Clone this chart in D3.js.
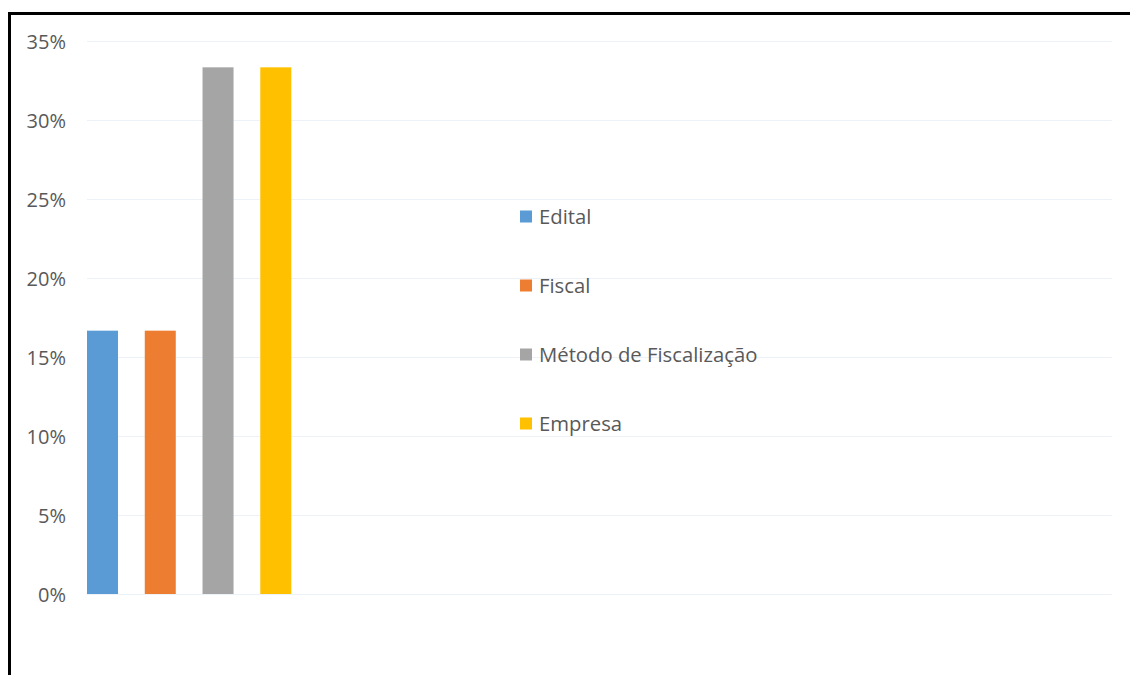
<!DOCTYPE html>
<html>
<head>
<meta charset="utf-8">
<script src="https://cdn.jsdelivr.net/npm/d3@7"></script>
<style>
  html, body { margin: 0; padding: 0; background: #fff; }
  svg { display: block; }
  text { font-family: "Open Sans", "Segoe UI", sans-serif; fill: #595959; }
</style>
</head>
<body>
<svg id="chart" width="1130" height="675"></svg>
<script>
// Series (one bar each) and their shares
const series = ["Edital", "Fiscal", "Método de Fiscalização", "Empresa"];
const values = [1 / 6, 1 / 6, 1 / 3, 1 / 3];
const colors = ["#5B9BD5", "#ED7D31", "#A5A5A5", "#FFC000"];
const yTicks = [0, 0.05, 0.10, 0.15, 0.20, 0.25, 0.30, 0.35];

const svg = d3.select("#chart");

// outer frame
svg.append("rect")
  .attr("x", 9.5).attr("y", 13.5)
  .attr("width", 1200).attr("height", 800)
  .attr("fill", "none").attr("stroke", "#000").attr("stroke-width", 3);

const plot = { left: 87, right: 1112, top: 41, bottom: 594 };

const y = d3.scaleLinear().domain([0, 0.35]).range([plot.bottom, plot.top]);
const x = d3.scaleBand().domain(series).range([87, 291.3]).paddingInner(0.463).paddingOuter(0);

// gridlines
svg.append("g").selectAll("line").data(yTicks).join("line")
  .attr("x1", plot.left).attr("x2", plot.right)
  .attr("y1", d => Math.round(y(d)) + 0.5).attr("y2", d => Math.round(y(d)) + 0.5)
  .attr("stroke", "#edf2f8").attr("stroke-width", 1);

// y-axis labels
const fmt = d3.format(".0%");
svg.append("g").selectAll("text").data(yTicks).join("text")
  .attr("x", 66).attr("y", d => y(d))
  .attr("text-anchor", "end").attr("dominant-baseline", "central")
  .style("font-size", "20px")
  .text(d => fmt(d));

// bars
svg.append("g").selectAll("rect").data(series).join("rect")
  .attr("x", d => x(d)).attr("width", x.bandwidth())
  .attr("y", (d, i) => y(values[i]))
  .attr("height", (d, i) => y(0) - y(values[i]))
  .attr("fill", (d, i) => colors[i]);

// legend
const legend = svg.append("g").attr("transform", "translate(520,216)");
const item = legend.selectAll("g").data(series).join("g")
  .attr("transform", (d, i) => `translate(0,${i * 69})`);
item.append("rect").attr("x", 0).attr("y", -5.5).attr("width", 12).attr("height", 12)
  .attr("fill", (d, i) => colors[i]);
item.append("text").attr("x", 19).attr("y", 0)
  .attr("dominant-baseline", "central")
  .style("font-size", "20.3px")
  .text(d => d);
</script>
</body>
</html>
